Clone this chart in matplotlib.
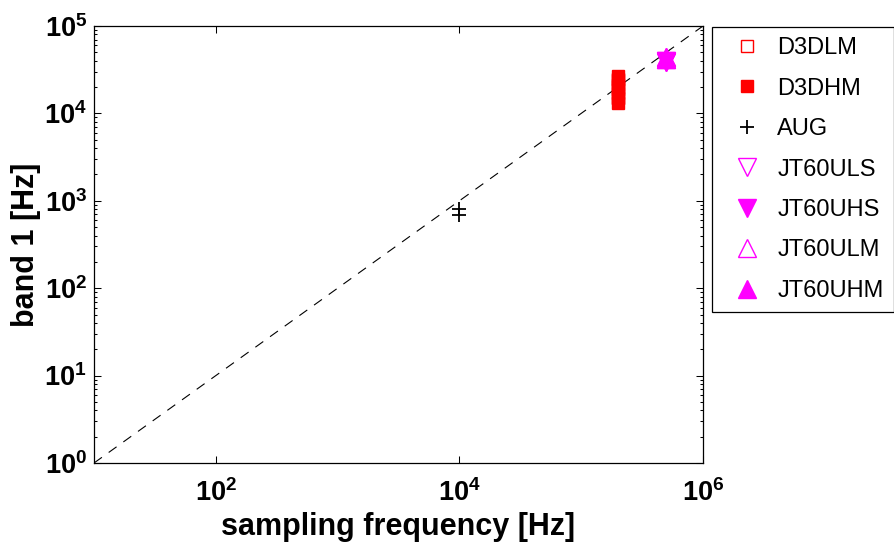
import numpy as np
import matplotlib
matplotlib.use("Agg")
import matplotlib.pyplot as plt
from matplotlib.ticker import FixedLocator, FuncFormatter, LogLocator, NullLocator

plt.rcParams.update({
    "font.family": ["Liberation Sans", "DejaVu Sans"],
    "mathtext.fontset": "custom",
    "mathtext.bf": "Liberation Sans:bold",
    "mathtext.rm": "Liberation Sans:bold",
    "lines.scale_dashes": False,
})

# sampling frequency [Hz] and band 1 [Hz] per device
d3dlm_fs = [2e5, 2e5, 2e5]
d3dlm_b1 = [15000, 20000, 25000]
d3dhm_fs = [2e5, 2e5, 2e5, 2e5, 2e5, 2e5, 2e5]
d3dhm_b1 = [13000, 15000, 17000, 19000, 21000, 24000, 27000]
aug_fs = [1e4, 1e4]
aug_b1 = [690, 800]
jt_ls_fs = [5e5, 5e5]
jt_ls_b1 = [38500, 40000]
jt_hs_fs = [5e5, 5e5]
jt_hs_b1 = [38500, 40000]
jt_lm_fs = [5e5, 5e5]
jt_lm_b1 = [42000, 44000]
jt_hm_fs = [5e5, 5e5]
jt_hm_b1 = [42000, 44000]

# reference line band1 = fs / 10
ref_fs = [1e1, 1e6]
ref_b1 = [1e0, 1e5]

RED, MAG = "#ff0000", "#ff00ff"

fig = plt.figure(figsize=(8.94, 5.42), dpi=100)
ax = fig.add_axes([94 / 894, 79 / 542, 609 / 894, 437 / 542])

ax.plot(ref_fs, ref_b1, color="black", lw=0.8, ls="--", dashes=(7, 6))
ax.plot(d3dlm_fs, d3dlm_b1, "s", ms=9, mfc="none", mec=RED, mew=1, label="D3DLM")
ax.plot(d3dhm_fs, d3dhm_b1, "s", ms=9, mfc=RED, mec=RED, mew=1, label="D3DHM")
ax.plot(aug_fs, aug_b1, "+", ms=10, color="black", mew=1.3, label="AUG")
ax.plot(jt_ls_fs, jt_ls_b1, "v", ms=13.5, mfc="none", mec=MAG, mew=1, label="JT60ULS")
ax.plot(jt_hs_fs, jt_hs_b1, "v", ms=13.5, mfc=MAG, mec=MAG, mew=1, label="JT60UHS")
ax.plot(jt_lm_fs, jt_lm_b1, "^", ms=13.5, mfc="none", mec=MAG, mew=1, label="JT60ULM")
ax.plot(jt_hm_fs, jt_hm_b1, "^", ms=13.5, mfc=MAG, mec=MAG, mew=1, label="JT60UHM")

ax.set_xscale("log")
ax.set_yscale("log")
ax.set_xlim(1e1, 1e6)
ax.set_ylim(1e0, 1e5)

fmt = FuncFormatter(lambda v, p: r"$\mathbf{10^{%d}}$" % int(round(np.log10(v))))
ax.xaxis.set_major_locator(FixedLocator([1e2, 1e4, 1e6]))
ax.xaxis.set_minor_locator(NullLocator())
ax.yaxis.set_major_locator(FixedLocator([1e0, 1e1, 1e2, 1e3, 1e4, 1e5]))
ax.yaxis.set_minor_locator(LogLocator(base=10, subs=np.arange(2, 10), numticks=20))
ax.xaxis.set_major_formatter(fmt)
ax.yaxis.set_major_formatter(fmt)
ax.yaxis.set_minor_formatter(plt.NullFormatter())

ax.tick_params(which="both", direction="in", top=True, right=True, labelsize=19.5, colors="black")
ax.tick_params(which="major", length=5, width=0.75)
ax.tick_params(which="minor", length=2.5, width=0.75)
ax.tick_params(axis="x", pad=12)
ax.tick_params(axis="y", pad=5)
for s in ax.spines.values():
    s.set_linewidth(0.9)

ax.set_xlabel("sampling frequency [Hz]", fontsize=22, fontweight="bold", labelpad=3)
ax.set_ylabel("band 1 [Hz]", fontsize=22, fontweight="bold", labelpad=2)

leg = fig.legend(loc="upper left", bbox_to_anchor=(712 / 894, 1 - 26.7 / 542),
                 borderaxespad=0, fontsize=17, numpoints=1, fancybox=False,
                 framealpha=1, edgecolor="black", borderpad=0.45, handlelength=2.1,
                 handletextpad=0.22, labelspacing=0.78)
leg.get_frame().set_linewidth(0.9)

fig.savefig("out.png", dpi=100)
